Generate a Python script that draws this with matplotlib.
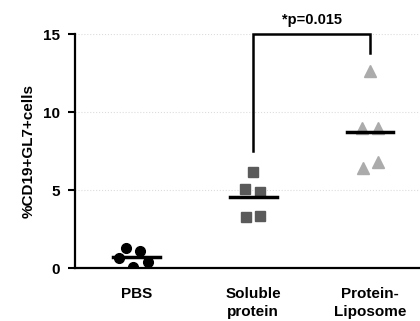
import matplotlib

matplotlib.use("Agg")
import matplotlib.pyplot as plt

# ---- data ---------------------------------------------------------------
categories = ["PBS", "Soluble\nprotein", "Protein-\nLiposome"]
pbs_x = [0.85, 0.91, 1.03, 1.10, 0.97]
pbs_y = [0.62, 1.30, 1.09, 0.37, 0.08]
soluble_x = [2.00, 1.93, 2.06, 1.94, 2.06]
soluble_y = [6.13, 5.08, 4.89, 3.25, 3.31]
lipo_x = [3.00, 2.93, 3.07, 2.94, 3.07]
lipo_y = [12.6, 8.95, 8.95, 6.40, 6.78]
means = [0.72, 4.53, 8.70]
p_label = "*p=0.015"
yticks = [0, 5, 10, 15]

plt.rcParams["font.family"] = ["Liberation Sans", "DejaVu Sans"]
plt.rcParams["font.weight"] = "bold"

fig = plt.figure(figsize=(4.2, 3.21), dpi=100)
ax = fig.add_axes([0.1786, 0.165, 0.8214, 0.729])

ax.plot(pbs_x, pbs_y, "o", color="black", ms=7, mec="black", zorder=3)
ax.plot(soluble_x, soluble_y, "s", color="#5a5a5a", ms=6.5, mec="#5a5a5a", zorder=3)
ax.plot(lipo_x, lipo_y, "^", color="#ababab", ms=8, mec="#ababab", zorder=3)

for i, m in enumerate(means):
    ax.plot([i + 1 - 0.2, i + 1 + 0.2], [m, m], color="black", lw=2.5, zorder=4)

# significance bracket
ax.plot([2, 2, 3, 3], [7.5, 15, 15, 13.8], color="black", lw=1.8, clip_on=False,
        solid_joinstyle="miter")
ax.text(2.5, 15.45, p_label, ha="center", va="bottom", fontsize=10.5, fontweight="bold")

ax.set_xlim(0.47, 3.43)
ax.set_ylim(0, 15)
ax.set_yticks(yticks)
ax.set_xticks([1, 2, 3])
ax.set_xticklabels(categories, fontsize=11, fontweight="bold", linespacing=1.3, va="top")
ax.tick_params(axis="x", length=0, pad=14)
ax.tick_params(axis="y", length=5, width=1.5, labelsize=11, pad=6)
ax.set_ylabel("%CD19+GL7+cells", fontsize=11, fontweight="bold", labelpad=5)

for s in ["top", "right"]:
    ax.spines[s].set_visible(False)
for s in ["left", "bottom"]:
    ax.spines[s].set_linewidth(1.6)

ax.yaxis.grid(True, color="#dcdcdc", linestyle=":", lw=0.8)
ax.set_axisbelow(True)

fig.savefig("out.png", dpi=100)
